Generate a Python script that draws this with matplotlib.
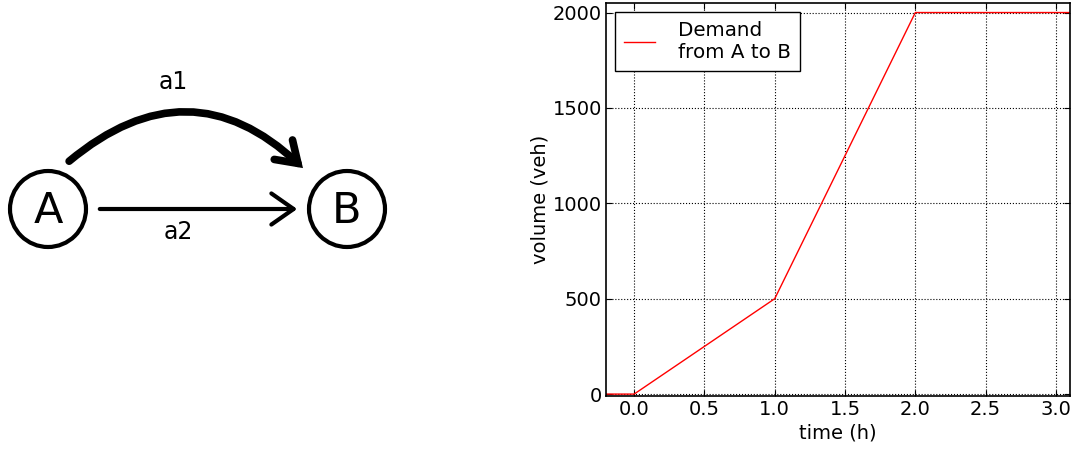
import matplotlib
matplotlib.use("Agg")
import matplotlib.pyplot as plt
from matplotlib.patches import Circle, FancyArrowPatch

# Data
time_h = [-0.2, 0.0, 1.0, 2.0, 3.1]
volume = [0, 0, 500, 2000, 2000]
x_ticks = [0.0, 0.5, 1.0, 1.5, 2.0, 2.5, 3.0]
y_ticks = [0, 500, 1000, 1500, 2000]
legend_label = "Demand\nfrom A to B"
nodes = ["A", "B"]
links = ["a1", "a2"]

fig = plt.figure(figsize=(10.82, 4.49), dpi=100)

# Left: network diagram in pixel-like coordinates
axd = fig.add_axes([0, 0, 487 / 1082, 1])
axd.set_xlim(0, 487)
axd.set_ylim(449, 0)
axd.set_aspect("equal")
axd.axis("off")

node_pos = {"A": (48, 209), "B": (347, 209)}
for n in nodes:
    cx, cy = node_pos[n]
    axd.add_patch(Circle((cx, cy), 38, fill=False, lw=3, ec="black"))
    axd.text(cx, cy + 2, n, ha="center", va="center", fontsize=31)

# a2 straight arrow
a2 = FancyArrowPatch((97, 209), (300, 209), arrowstyle="->,head_length=10,head_width=7",
                     lw=3, color="black", mutation_scale=1.6)
axd.add_patch(a2)
# a1 curved arrow
a1 = FancyArrowPatch((67, 163), (305, 170), connectionstyle="arc3,rad=-0.45",
                     arrowstyle="->,head_length=9,head_width=6",
                     lw=5.5, color="black", mutation_scale=1.6, joinstyle="miter")
axd.add_patch(a1)
axd.text(173, 82, links[0], ha="center", va="center", fontsize=17)
axd.text(178, 232, links[1], ha="center", va="center", fontsize=17)

# Right: demand chart
ax = fig.add_axes([606 / 1082, (449 - 396) / 449, (1070 - 606) / 1082, (396 - 3) / 449])
ax.plot(time_h, volume, color="red", lw=1, label=legend_label)
ax.set_xlim(-0.2, 3.1)
ax.set_ylim(-10, 2050)
ax.set_xticks(x_ticks)
ax.set_yticks(y_ticks)
ax.tick_params(direction="in", top=True, right=True, labelsize=14, length=4, pad=3)
ax.grid(True, color="black", linestyle=":", lw=0.8)
ax.set_xlabel("time (h)", fontsize=14, labelpad=3)
ax.set_ylabel("volume (veh)", fontsize=14, labelpad=2)
for s in ax.spines.values():
    s.set_linewidth(1.2)
leg = ax.legend(loc="upper left", fontsize=14.3, fancybox=False, framealpha=1,
                edgecolor="black", handlelength=1.55, handletextpad=1.2,
                borderaxespad=0.45, borderpad=0.45, labelspacing=0.2)
leg.get_frame().set_linewidth(1)

fig.savefig("out.png", dpi=100)
